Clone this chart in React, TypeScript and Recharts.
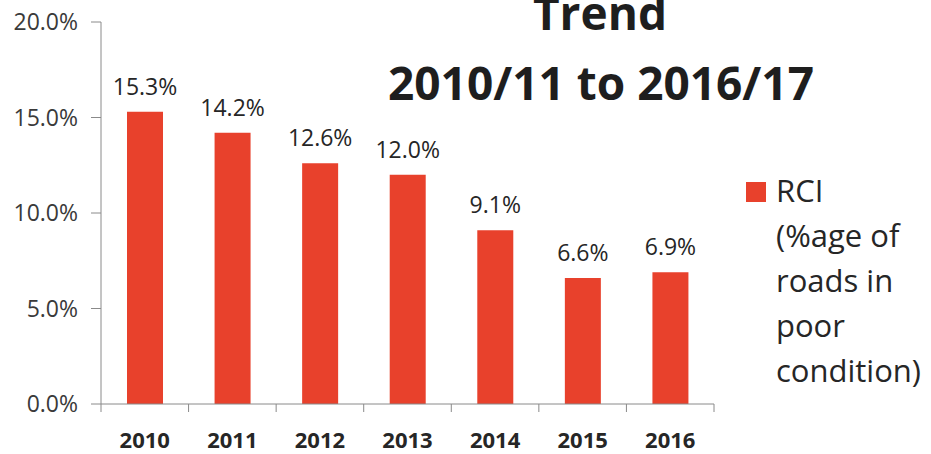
import React from "react";
import { BarChart, Bar, XAxis, YAxis, LabelList, Legend } from "recharts";

// RCI trend — share of roads in poor condition, 2010/11 .. 2016/17

const years = ["2010", "2011", "2012", "2013", "2014", "2015", "2016"];
const rci = [15.3, 14.2, 12.6, 12.0, 9.1, 6.6, 6.9];
const yTicks = [0, 5, 10, 15, 20];
const titleLines = ["Trend", "2010/11 to 2016/17"];
const seriesName = "RCI (%age of roads in poor condition)";
const legendLines = ["RCI", "(%age of", "roads in", "poor", "condition)"];

const W = 931;
const H = 454;
const Y_W = 101;
const X_H = 50;
const LEG_W = 185;
// right margin + legend width leaves the plot ending at x≈714
const M = { top: 22, right: 217 - LEG_W, bottom: 0, left: 0 };
const PLOT_W = W - 217 - Y_W;

const RED = "#E8412C";
const AXIS = "#8a8a8a";
const INK = "#262626";
const FONT = "'Open Sans', 'Noto Sans', sans-serif";

const data = years.map((y, i) => ({ year: y, rci: rci[i] }));

const pct = (v: number) => `${Number(v).toFixed(1)}%`;

// category labels + boundary tick marks (Excel style, ticks between columns)
function XTick(props: any) {
  const { x, y, payload, index } = props;
  const step = PLOT_W / years.length;
  const axisY = y - 8;
  return (
    <g>
      <line x1={x - step / 2} x2={x - step / 2} y1={axisY} y2={axisY + 8} stroke={AXIS} />
      {index === years.length - 1 && (
        <line x1={x + step / 2} x2={x + step / 2} y1={axisY} y2={axisY + 8} stroke={AXIS} />
      )}
      <text x={x} y={y + 36} textAnchor="middle" fontFamily={FONT} fontWeight={700} fontSize={22} fill={INK}>
        {payload.value}
      </text>
    </g>
  );
}

function LegendBox({ payload }: any) {
  const color = payload && payload[0] ? payload[0].color : RED;
  return (
    <div style={{ position: "relative", fontFamily: FONT, fontSize: 31, lineHeight: "45px", color: INK }}>
      <span style={{ position: "absolute", left: 0, top: 14, width: 20, height: 20, background: color }} />
      <div style={{ paddingLeft: 30 }}>
        {legendLines.map((l) => (
          <div key={l} style={{ whiteSpace: "nowrap" }}>{l}</div>
        ))}
      </div>
    </div>
  );
}

export default function App() {
  return (
    <div style={{ position: "relative", width: W, height: H, background: "#fff", overflow: "hidden" }}>
      <style>{`body{margin:0}`}</style>
      <BarChart width={W} height={H} data={data} margin={M}>
        <YAxis
          width={Y_W}
          domain={[0, 20]}
          ticks={yTicks}
          tickFormatter={pct}
          tickSize={10}
          tickMargin={13}
          axisLine={{ stroke: AXIS }}
          tickLine={{ stroke: AXIS }}
          tick={{ fontFamily: FONT, fontSize: 23, fill: "#3a3a3a" }}
        />
        <XAxis
          dataKey="year"
          height={X_H}
          interval={0}
          tickSize={8}
          tickMargin={0}
          tickLine={false}
          axisLine={{ stroke: AXIS }}
          tick={<XTick />}
        />
        <Legend
          layout="vertical"
          align="right"
          verticalAlign="middle"
          content={<LegendBox />}
          wrapperStyle={{ position: "absolute", left: 746, top: 168, width: LEG_W }}
        />
        <Bar dataKey="rci" name={seriesName} fill={RED} barSize={36} isAnimationActive={false}>
          <LabelList
            dataKey="rci"
            position="top"
            offset={17}
            formatter={(v: any) => pct(v)}
            style={{ fontFamily: FONT, fontSize: 23, fill: INK }}
          />
        </Bar>
      </BarChart>
      <svg width={W} height={H} style={{ position: "absolute", left: 0, top: 0, pointerEvents: "none" }}>
        <text x={600} y={30} textAnchor="middle" fontFamily={FONT} fontWeight={700} fontSize={46} fill="#1e1e1e">
          {titleLines[0]}
        </text>
        <text x={601} y={100} textAnchor="middle" fontFamily={FONT} fontWeight={700} fontSize={46} fill="#1e1e1e">
          {titleLines[1]}
        </text>
      </svg>
    </div>
  );
}
